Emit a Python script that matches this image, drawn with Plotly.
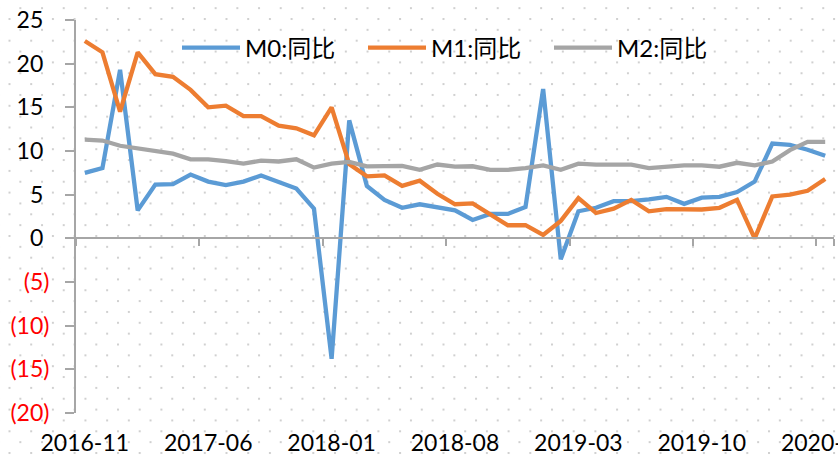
import base64
import plotly.graph_objects as go

# ---------------- data ----------------
months = [
    "2016-11", "2016-12", "2017-01", "2017-02", "2017-03", "2017-04", "2017-05",
    "2017-06", "2017-07", "2017-08", "2017-09", "2017-10", "2017-11", "2017-12",
    "2018-01", "2018-02", "2018-03", "2018-04", "2018-05", "2018-06", "2018-07",
    "2018-08", "2018-09", "2018-10", "2018-11", "2018-12", "2019-01", "2019-02",
    "2019-03", "2019-04", "2019-05", "2019-06", "2019-07", "2019-08", "2019-09",
    "2019-10", "2019-11", "2019-12", "2020-01", "2020-02", "2020-03", "2020-04",
    "2020-05",
]
m0_yoy = [
    7.5, 8.05, 19.3, 3.2, 6.15, 6.2, 7.3, 6.5, 6.1, 6.5, 7.2, 6.4, 5.7, 3.4,
    -13.8, 13.5, 6.0, 4.4, 3.5, 3.9, 3.6, 3.2, 2.1, 2.8, 2.8, 3.6, 17.1, -2.4,
    3.1, 3.5, 4.25, 4.25, 4.45, 4.75, 3.95, 4.65, 4.75, 5.3, 6.5, 10.85, 10.7,
    10.15, 9.45,
]
m1_yoy = [
    22.6, 21.3, 14.5, 21.3, 18.8, 18.5, 17.0, 15.0, 15.2, 14.0, 14.0, 12.9, 12.6,
    11.8, 15.0, 8.5, 7.1, 7.2, 6.0, 6.6, 5.1, 3.9, 4.0, 2.8, 1.5, 1.5, 0.4, 2.0,
    4.6, 2.9, 3.4, 4.4, 3.1, 3.35, 3.35, 3.3, 3.5, 4.4, 0.0, 4.8, 5.0, 5.45, 6.8,
]
m2_yoy = [
    11.3, 11.2, 10.6, 10.3, 10.0, 9.7, 9.05, 9.05, 8.85, 8.55, 8.9, 8.8, 9.05,
    8.1, 8.55, 8.75, 8.25, 8.25, 8.3, 7.85, 8.45, 8.2, 8.25, 7.85, 7.85, 8.05,
    8.35, 7.85, 8.55, 8.45, 8.45, 8.45, 8.05, 8.2, 8.35, 8.35, 8.2, 8.65, 8.35,
    8.8, 10.1, 11.05, 11.05,
]
series_names = ["M0:同比", "M1:同比", "M2:同比"]
series_colors = ["#5B9BD5", "#ED7D31", "#A5A5A5"]

y_ticks = [-20, -15, -10, -5, 0, 5, 10, 15, 20, 25]
y_tick_labels = ["(20)", "(15)", "(10)", "(5)", "0", "5", "10", "15", "20", "25"]
x_tick_labels = months[::7]

# ---------------- styling helpers ----------------
W, H = 838, 460
ML, MR, MT, MB = 76, 4, 20, 47
PW, PH = W - ML - MR, H - MT - MB
FONT = "Lato, 'Noto Sans CJK SC', sans-serif"
AXIS_GREY = "#A6A6A6"

# dotted chart-area fill (Excel pattern) as a background image
svg = (
    f'<svg xmlns="http://www.w3.org/2000/svg" width="{W}" height="{H}" '
    f'viewBox="0 0 {W} {H}" preserveAspectRatio="none"><defs>'
    '<pattern id="p" x="8.5" y="18" width="21.7" height="21.7" patternUnits="userSpaceOnUse">'
    '<rect x="0" y="0" width="2" height="2" fill="#D0D0D0"/>'
    '<rect x="10.85" y="10.85" width="2" height="2" fill="#D0D0D0"/>'
    '</pattern></defs>'
    f'<rect width="{W}" height="{H}" fill="url(#p)"/></svg>'
)
bg_uri = "data:image/svg+xml;base64," + base64.b64encode(svg.encode()).decode()


def fmt_y(lbl, v):
    if v < 0:
        return f'<span style="color:#FF0000">{lbl}</span>'
    return f'{lbl}<span style="color:rgba(0,0,0,0)">)</span>'


fig = go.Figure()
for name, vals, col in zip(series_names, [m0_yoy, m1_yoy, m2_yoy], series_colors):
    fig.add_trace(go.Scatter(
        x=months, y=vals, mode="lines", name=name,
        line=dict(color=col, width=4.3),
    ))

n = len(months)
zero_pos = (0 - y_ticks[0]) / (y_ticks[-1] - y_ticks[0])

fig.update_layout(
    width=W, height=H, autosize=False,
    margin=dict(l=ML, r=MR, t=MT, b=MB, pad=0, autoexpand=False),
    paper_bgcolor="white",
    plot_bgcolor="rgba(0,0,0,0)",
    font=dict(family=FONT, size=23, color="#000000"),
    showlegend=True,
    legend=dict(
        orientation="h", x=(177 - ML) / PW, xanchor="left",
        y=1 - (48 - MT) / PH, yanchor="middle",
        bgcolor="rgba(0,0,0,0)", borderwidth=0,
        itemwidth=58,
        entrywidth=113, entrywidthmode="pixels",
        font=dict(family=FONT, size=24, color="#000000"),
        traceorder="normal",
    ),
    xaxis=dict(
        type="category", categoryorder="array", categoryarray=months,
        range=[-0.5, n - 0.5],
        anchor="free", position=zero_pos,
        tickmode="array", tickvals=x_tick_labels, ticktext=x_tick_labels,
        tickson="boundaries", tickangle=0,
        ticks="outside", ticklen=7, tickwidth=2, tickcolor=AXIS_GREY,
        showline=True, linecolor=AXIS_GREY, linewidth=2,
        showgrid=False, zeroline=False, automargin=False,
        ticklabelstandoff=184,
        tickfont=dict(family=FONT, size=23, color="#000000"),
    ),
    yaxis=dict(
        range=[y_ticks[0], y_ticks[-1]],
        tickmode="array", tickvals=y_ticks,
        ticktext=[fmt_y(l, v) for l, v in zip(y_tick_labels, y_ticks)],
        ticks="outside", ticklen=9, tickwidth=2, tickcolor=AXIS_GREY,
        showline=True, linecolor=AXIS_GREY, linewidth=2,
        showgrid=False, zeroline=False, automargin=False,
        ticklabelstandoff=11,
        tickfont=dict(family=FONT, size=23, color="#000000"),
    ),
    images=[dict(
        source=bg_uri, xref="paper", yref="paper",
        x=-ML / PW, y=1 + MT / PH, sizex=W / PW, sizey=H / PH,
        xanchor="left", yanchor="top", sizing="stretch", layer="below",
    )],
)

fig.write_html(
    "out.html",
    config={"displayModeBar": False},
    post_script="document.body.style.margin='0';document.body.style.overflow='hidden';",
)
